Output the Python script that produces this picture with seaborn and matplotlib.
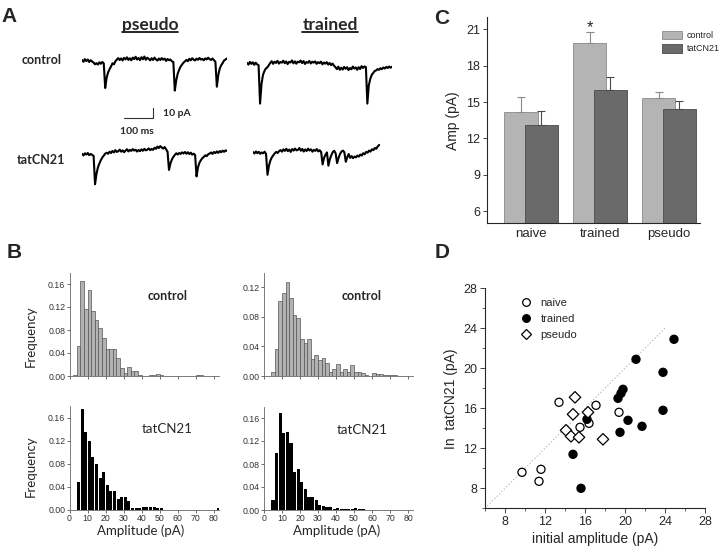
import numpy as np
import pandas as pd
import seaborn as sns
import matplotlib.pyplot as plt
from matplotlib.lines import Line2D
from matplotlib.patches import Patch
from matplotlib.ticker import MultipleLocator, FormatStrFormatter

# ---------------- panel A: example traces (pA, one sample every 5 ms, baseline 0)
dt_ms = 5
trace_pseudo_control = [
    0.5, -0.8, 1.2, -0.3, 0.9, -1.0, 0.4, -0.6, -1.5, -2.8, -1.9, -3.0,
    -1.2, -2.4, -1.0, -2.0,
    -21, -13, -9, -6.5, -4.5, -2.0, -2.8, -0.5,
    0.8, 2.0, 0.5, 1.8, 0.2, 2.2, 1.0, 2.6, 0.6, 1.9, 0.3, 2.4, 1.2, 3.0, 0.9,
    2.1, 0.4, 2.7, 1.1, 3.2, 0.7, 2.3, 1.5, 0.2, 1.9, 0.6, 2.4, 1.0, 0.1, 1.7,
    0.5, 2.0, 0.8, 1.6, -0.2, 1.3, 0.4, 0.9, -0.5,
    -1.0, -23, -15, -10, -7, -4.5, -3, -1.5, -0.5,
    0.6, -0.4, 1.5, 0.3, 1.9, 0.8, 0.2, 1.6, 0.7, 2.1, 0.9, 1.4, 0.3, 1.8, 1.0,
    2.3, 1.2, 0.6, 1.7, 0.4,
    -0.8, -20, -11, -6, -3.5, -1.8, 0.2, 0.9, 1.8]
trace_trained_control = [
    0.3, -1.0, 1.1, -0.5, 0.8, -1.2, 0.5, -0.8, -1.5,
    -31, -16, -9, -6, -4, -3.2, -1.5,
    0.2, 1.6, -0.4, 1.2, 0.3, 1.9, -0.2, 1.0, 0.5, 2.0,
    0.1, 1.4, -0.6, 1.1, 0.6, 2.2, 0.0, 1.5, -0.3, 1.3,
    0.8, 2.1, 0.2, 1.7, -0.5, 1.0, 0.4, 1.8, -0.1, 1.2,
    0.5, 1.5, -0.4, 0.9, 0.1, 1.3, -0.8, 0.6, -0.3, 0.9,
    -1.0, 0.3, -1.4, -0.2, -1.8,
    -3.0, -4.5, -2.6, -5.0, -3.4, -4.8, -2.8, -4.2, -3.0, -5.2,
    -3.6, -4.6, -2.5, -4.0, -3.2, -5.0, -3.0, -4.4, -2.2, -3.6, -2.4, -3.0,
    -31, -17, -12, -9, -7.5, -6, -5.5, -4.5, -5, -3.8, -4.5, -3.2, -4.0, -2.8,
    -3.6, -2.5, -3.4, -2.6]
trace_pseudo_tat = [
    0.4, -0.9, 0.8, -0.2, 1.0, -0.7, 0.3, -0.5, -1.2,
    -23, -15, -10, -7, -4.5, -2.5, -1.0, 0.5, 1.2, 0.4, 2.0,
    1.0, 2.6, 1.4, 3.2, 1.8, 2.4, 3.6, 2.0, 3.0, 1.6,
    2.8, 3.9, 2.2, 3.4, 2.6, 4.0, 2.9, 3.5, 2.1, 3.3,
    2.4, 3.8, 2.7, 4.2, 3.0, 3.6, 4.5, 3.2, 4.1, 3.4,
    5.0, 4.2, 6.0, 4.8, 6.3, 5.2, 4.4, 5.6, 3.8,
    2.0, -12, -7, -4, -2.0, -0.5, 0.8, -0.2, 1.0, 0.3, 1.5, 0.6,
    1.8, 0.4, 1.6, 0.2, 1.3, -0.3, 0.5,
    -0.5, -17, -10, -6.5, -4.5, -3.0, -2.0, -0.8, -1.4, 0.0,
    0.6, 1.4, 0.3, 1.8, 0.9, 2.2, 1.1, 2.5, 1.6, 2.8, 1.9, 3.0, 2.6]
trace_trained_tat = [
    0.5, -0.6, 1.0, -0.4, 0.7, -0.9, 0.2, -0.5, 0.8, -1.0,
    -17, -10, -6, -3.5, -2.0, -0.5, 0.6, -0.2, 1.2,
    2.0, 0.8, 2.6, 1.4, 3.0, 1.2, 2.4, 0.6, 2.8, 1.6,
    3.2, 1.8, 2.2, 3.6, 1.5, 2.9, 0.9, 2.5, 1.3, 3.1,
    1.7, 2.6, 0.8, 2.2, 1.4, 2.8, 1.0, 1.9, 0.5,
    -9, -4, -1.5, 0.2, -10, -5, -2.0, 0.5, 1.5, -0.5, -8, -4, -1.0, 0.8, 1.6,
    0.4, -7, -3.5, -1.0,
    -4.0, -2.6, -4.2, -3.0, -3.6, -2.2, -3.0, -1.4, -2.2, -0.4, -1.2, 0.6, 0.0,
    1.6, 0.8, 2.6, 2.0, 3.6, 3.0, 4.8, 6.0]
scale_ms = 100
scale_pA = 10

# ---------------- panel B: amplitude histograms (2 pA bins, relative frequency)
bin_width = 2
hist_pseudo_control_start = 2
hist_pseudo_control = [0.002, 0.053, 0.165, 0.117, 0.149, 0.113, 0.098, 0.084, 0.066,
                       0.047, 0.047, 0.047, 0.032, 0.014, 0.006, 0.016, 0.008, 0.008,
                       0.002, 0, 0, 0.002, 0.002, 0.004, 0.002, 0, 0, 0, 0, 0, 0,
                       0, 0, 0, 0.002, 0.002]
hist_pseudo_tat_start = 4
hist_pseudo_tat = [0.048, 0.175, 0.135, 0.12, 0.092, 0.08, 0.055, 0.066, 0.042, 0.033,
                   0.033, 0.018, 0.021, 0.021, 0.015, 0.002, 0.002, 0.002, 0.004, 0.004,
                   0.004, 0.004, 0.002, 0.002, 0, 0, 0, 0, 0, 0, 0, 0, 0, 0, 0, 0, 0,
                   0, 0, 0.002]
hist_trained_control_start = 4
hist_trained_control = [0.006, 0.037, 0.102, 0.112, 0.127, 0.105, 0.082, 0.078, 0.050,
                        0.044, 0.050, 0.023, 0.028, 0.022, 0.025, 0.017, 0.006, 0.010,
                        0.016, 0.006, 0.009, 0.005, 0.015, 0.006, 0.006, 0.004, 0.002,
                        0, 0.004, 0.003, 0.003, 0.002, 0.002, 0.002, 0.002]
hist_trained_tat_start = 4
hist_trained_tat = [0.018, 0.100, 0.168, 0.134, 0.136, 0.117, 0.066, 0.071, 0.049, 0.037,
                    0.022, 0.022, 0.017, 0.009, 0.007, 0.006, 0.005, 0.002, 0.003, 0.002,
                    0.001, 0.002, 0.002, 0.003, 0.001, 0.001]

# ---------------- panel C: mean amplitude
groups = ["naive", "trained", "pseudo"]
amp_control = [14.2, 19.9, 15.3]
amp_control_sem = [1.2, 0.9, 0.5]
amp_tat = [13.1, 16.0, 14.45]
amp_tat_sem = [1.15, 1.1, 0.6]

# ---------------- panel D: initial vs tatCN21 amplitude per cell
naive_x = [9.7, 11.4, 11.6, 13.4, 17.1, 15.5, 16.4, 19.4]
naive_y = [9.6, 8.7, 9.9, 16.6, 16.3, 14.1, 14.5, 15.6]
trained_x = [14.8, 15.6, 16.2, 19.3, 19.6, 19.8, 19.5, 20.3, 21.1, 21.7, 23.8, 23.8, 24.9]
trained_y = [11.4, 8.0, 14.9, 17.0, 17.5, 17.9, 13.6, 14.8, 20.9, 14.2, 19.6, 15.8, 22.9]
pseudo_x = [15.0, 14.8, 16.3, 14.1, 14.6, 15.4, 17.8]
pseudo_y = [17.1, 15.4, 15.6, 13.8, 13.2, 13.1, 12.9]
identity_line = [6, 24]

sns.set_style("ticks")
plt.rcParams['font.family'] = ['Liberation Sans', 'DejaVu Sans']
CAL = ['Lato', 'DejaVu Sans']  # calibri-ish for panels A and B

W, H = 720, 552
fig = plt.figure(figsize=(W / 100, H / 100), dpi=100)


def px_axes(left, top, right, bottom):
    return fig.add_axes([left / W, 1 - bottom / H, (right - left) / W, (bottom - top) / H])


def px_text(x, y, s, **kw):
    return fig.text(x / W, 1 - y / H, s, **kw)


# panel letters
for letter, x, y in [("A", 9, 16), ("B", 14, 253), ("C", 442, 19), ("D", 442, 252)]:
    px_text(x, y, letter, fontsize=15, fontweight="bold", ha="center", va="center")

# ---------------- A
ms_px = 145 / 500   # px per ms
pa_px = 1.3         # px per pA
trace_ylim = (-32, 8)


def trace_axes(left, baseline):
    top = baseline - trace_ylim[1] * pa_px
    ax = px_axes(left, top, left + 500 * ms_px, top + (trace_ylim[1] - trace_ylim[0]) * pa_px)
    ax.set_xlim(0, 500)
    ax.set_ylim(*trace_ylim)
    ax.axis("off")
    return ax


for trace, left, base in [(trace_pseudo_control, 82, 60.7), (trace_trained_control, 247, 63.3),
                          (trace_pseudo_tat, 82, 154.3), (trace_trained_tat, 253, 152.7)]:
    ax = trace_axes(left, base)
    t = np.arange(len(trace)) * dt_ms
    sns.lineplot(x=t, y=trace, ax=ax, color="black", linewidth=1.5, estimator=None, sort=False)

axs = trace_axes(124, 118.3)
axs.plot([0, scale_ms, scale_ms], [0, 0, scale_pA], color="#333333", lw=0.8)
px_text(163, 114, "10 pA", fontsize=7.5, fontweight="bold", family=CAL, va="center")
px_text(120, 131, "100 ms", fontsize=7.5, fontweight="bold", family=CAL, va="center")

headers = [px_text(150, 25, "pseudo", fontsize=12.5, fontweight="bold", family=CAL, ha="center", va="center"),
           px_text(330, 25, "trained", fontsize=12.5, fontweight="bold", family=CAL, ha="center", va="center")]
px_text(22, 60, "control", fontsize=9, fontweight="bold", family=CAL, va="center")
px_text(17, 160, "tatCN21", fontsize=9, fontweight="bold", family=CAL, va="center")

# ---------------- B
hist_specs = [
    (hist_pseudo_control, hist_pseudo_control_start, (69.5, 272.5, 376), 0.18, True, "control"),
    (hist_pseudo_tat, hist_pseudo_tat_start, (69.5, 406, 509.5), 0.18, False, "tatCN21"),
    (hist_trained_control, hist_trained_control_start, (264, 272.5, 376), 0.14, True, "control"),
    (hist_trained_tat, hist_trained_tat_start, (264, 406.5, 510), 0.18, False, "tatCN21"),
]
for freqs, start, (left, top, bottom), ytop, is_ctrl, lab in hist_specs:
    ax = px_axes(left, top, left + 83 * 1.8, bottom)
    n = len(freqs)
    dfh = pd.DataFrame({"amp": start + bin_width * (np.arange(n) + 0.5), "freq": freqs})
    kw = dict(data=dfh, x="amp", weights="freq", binwidth=bin_width,
              binrange=(start, start + bin_width * n), ax=ax, alpha=1)
    if is_ctrl:
        sns.histplot(color="#b2b2b2", edgecolor="#555555", linewidth=0.5, **kw)
    else:
        sns.histplot(color="black", edgecolor="none", shrink=0.84, **kw)
    ax.set_xlim(0, 83)
    ax.set_ylim(0, ytop)
    ax.set_xticks(range(0, 81, 10))
    ax.set_yticks(np.arange(0, ytop - 0.001, 0.04))
    ax.yaxis.set_major_formatter(FormatStrFormatter("%.2f"))
    ax.tick_params(labelsize=6.3, length=2, width=0.5, pad=1, colors="#333333")
    ax.set_xlabel("")
    ax.set_ylabel("")
    sns.despine(ax=ax)
    for s in ["left", "bottom"]:
        ax.spines[s].set_linewidth(0.6)
        ax.spines[s].set_color("#666666")
    if is_ctrl:
        ax.tick_params(labelbottom=False)
    px_text(left + 98, top + 23, lab, fontsize=9 if is_ctrl else 9.5,
            fontweight="bold" if is_ctrl else "normal", family=CAL, ha="center", va="center")

px_text(31, 336, "Frequency", fontsize=9.5, family=CAL, rotation=90, ha="center", va="center")
px_text(31, 466, "Frequency", fontsize=9.5, family=CAL, rotation=90, ha="center", va="center")
px_text(141, 531, "Amplitude (pA)", fontsize=9.5, family=CAL, ha="center", va="center")
px_text(337, 531, "Amplitude (pA)", fontsize=9.5, family=CAL, ha="center", va="center")

# ---------------- C
light, dark = "#b4b4b4", "#6a6a6a"
light_edge, dark_edge = "#8a8a8a", "#4a4a4a"
dfC = pd.DataFrame({
    "group": groups * 2,
    "treatment": ["control"] * 3 + ["tatCN21"] * 3,
    "amp": amp_control + amp_tat,
    "sem": amp_control_sem + amp_tat_sem,
})
axC = px_axes(487, 17.2, 700, 223.4)
sns.barplot(data=dfC, x="group", y="amp", hue="treatment", order=groups,
            palette={"control": light, "tatCN21": dark}, dodge=True, width=0.6,
            errorbar=None, legend=False, ax=axC)
bar_w = 0.486
for p, sem, ec in zip(axC.patches, dfC["sem"], [light_edge] * 3 + [dark_edge] * 3):
    cx = p.get_x() + p.get_width() / 2
    p.set_width(bar_w)
    p.set_x(cx - bar_w / 2)
    p.set_edgecolor(ec)
    p.set_linewidth(0.6)
    axC.errorbar(cx, p.get_height(), yerr=[[0], [sem]], fmt="none", ecolor=ec,
                 elinewidth=0.8, capsize=3, capthick=0.8, zorder=1)
axC.text(1 - 0.15, 21.1, "*", ha="center", va="center", fontsize=12)
axC.set_ylim(5, 22)
axC.set_xlim(-0.64, 2.45)
axC.set_yticks(range(6, 22, 3))
axC.set_xlabel("")
axC.set_ylabel("Amp (pA)", fontsize=10, labelpad=4)
axC.tick_params(axis="y", labelsize=9, length=3, width=0.6, pad=2)
axC.tick_params(axis="x", labelsize=9.5, length=0, pad=3)
sns.despine(ax=axC)
for s in ["left", "bottom"]:
    axC.spines[s].set_linewidth(0.8)
axC.legend(handles=[Patch(fc=light, ec=light_edge, lw=0.6), Patch(fc=dark, ec=dark_edge, lw=0.6)],
           labels=["control", "tatCN21"], loc="upper left", bbox_to_anchor=(657 / W, 1 - 26 / H),
           bbox_transform=fig.transFigure, frameon=False, fontsize=6.5, borderpad=0,
           handlelength=2.3, handleheight=1.1, handletextpad=0.5, labelspacing=0.45)

# ---------------- D
dfD = pd.DataFrame({
    "initial": naive_x + trained_x + pseudo_x,
    "tat": naive_y + trained_y + pseudo_y,
    "group": ["naive"] * len(naive_x) + ["trained"] * len(trained_x) + ["pseudo"] * len(pseudo_x),
})
axD = px_axes(485, 288.3, 705, 508.3)
axD.plot(identity_line, identity_line, color="#aaaaaa", lw=0.8, ls=(0, (1, 2)))
sns.scatterplot(data=dfD, x="initial", y="tat", hue="group", style="group",
                palette={"naive": "white", "trained": "black", "pseudo": "white"},
                markers={"naive": "o", "trained": "o", "pseudo": "D"},
                edgecolor="black", linewidth=0.9, s=34, legend=False, ax=axD, zorder=3)
axD.set_xlim(6, 28)
axD.set_ylim(6, 28)
axD.set_xticks(range(8, 29, 4))
axD.set_yticks(range(8, 29, 4))
axD.xaxis.set_minor_locator(MultipleLocator(2))
axD.yaxis.set_minor_locator(MultipleLocator(2))
axD.tick_params(which="major", labelsize=9, length=3.5, width=0.6, pad=2)
axD.tick_params(which="minor", length=2, width=0.5)
axD.set_xlabel("initial amplitude (pA)", fontsize=10, labelpad=3)
axD.set_ylabel("In  tatCN21 (pA)", fontsize=10, labelpad=4)
sns.despine(ax=axD)
for s in ["left", "bottom"]:
    axD.spines[s].set_linewidth(0.8)
legD = [Line2D([], [], ls="none", marker="o", mfc="white", mec="black", ms=5.5, mew=0.9),
        Line2D([], [], ls="none", marker="o", mfc="black", mec="black", ms=5.5, mew=0.9),
        Line2D([], [], ls="none", marker="D", mfc="white", mec="black", ms=4.8, mew=0.9)]
axD.legend(handles=legD, labels=["naive", "trained", "pseudo"], loc="upper left",
           bbox_to_anchor=(514 / W, 1 - 292 / H), bbox_transform=fig.transFigure,
           frameon=False, fontsize=8, borderpad=0, handlelength=1.2, handletextpad=0.7,
           labelspacing=0.55)

# underline the column headers of panel A
fig.canvas.draw()
r = fig.canvas.get_renderer()
for t in headers:
    bb = t.get_window_extent(r)
    fig.add_artist(Line2D([bb.x0 / W, bb.x1 / W], [(bb.y0 + 1) / H] * 2, color="black",
                          lw=1.2, transform=fig.transFigure))

fig.savefig("out.png", dpi=100)
